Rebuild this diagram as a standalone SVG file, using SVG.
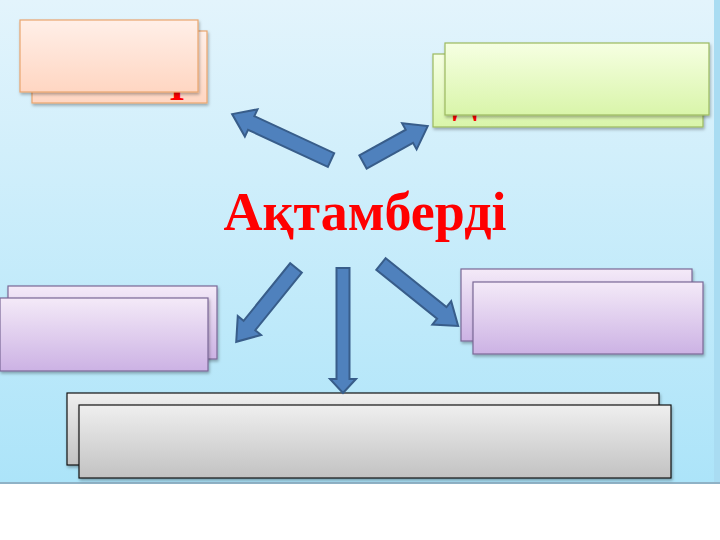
<svg xmlns="http://www.w3.org/2000/svg" width="720" height="540" viewBox="0 0 720 540">
<defs>
<linearGradient id="bg" x1="0" y1="0" x2="0" y2="1"><stop offset="0" stop-color="#e3f4fc"/><stop offset="1" stop-color="#ace4f9"/></linearGradient>
<linearGradient id="gPeach" x1="0" y1="0" x2="0" y2="1"><stop offset="0" stop-color="#ffefe8"/><stop offset="1" stop-color="#ffd6c2"/></linearGradient>
<linearGradient id="gGreen" x1="0" y1="0" x2="0" y2="1"><stop offset="0" stop-color="#f6ffe2"/><stop offset="1" stop-color="#d9f5aa"/></linearGradient>
<linearGradient id="gPurple" x1="0" y1="0" x2="0" y2="1"><stop offset="0" stop-color="#f4eaf8"/><stop offset="1" stop-color="#ccb2e4"/></linearGradient>
<linearGradient id="gGray" x1="0" y1="0" x2="0" y2="1"><stop offset="0" stop-color="#efefef"/><stop offset="1" stop-color="#c2c2c2"/></linearGradient>
<filter id="sh" x="-5%" y="-10%" width="115%" height="130%"><feDropShadow dx="1" dy="2" stdDeviation="1.5" flood-color="#000" flood-opacity="0.3"/></filter>
</defs>
<style>
.peach{fill:url(#gPeach);stroke:#eaa56e;stroke-width:1.2;filter:url(#sh)}
.green{fill:url(#gGreen);stroke:#9cba5f;stroke-width:1.2;filter:url(#sh)}
.purple{fill:url(#gPurple);stroke:#7a6896;stroke-width:1.2;filter:url(#sh)}
.gray{fill:url(#gGray);stroke:#111;stroke-width:1.2;filter:url(#sh)}
.arrow{fill:#4f81bd;stroke:#385d8a;stroke-width:2;stroke-linejoin:miter}
.frag{fill:#ff0000;font-family:"Liberation Serif",serif;font-weight:bold}
.title{fill:#ff0000;font-family:"Liberation Serif",serif;font-weight:bold;font-size:54px}
</style>
<rect x="0" y="0" width="720" height="540" fill="#ffffff"/>
<rect x="0" y="0" width="720" height="483" fill="url(#bg)"/>
<rect x="714" y="0" width="6" height="483" fill="#a9dcf2"/>
<line x1="0" y1="483" x2="720" y2="483" stroke="#8fb2c6" stroke-width="2"/>

<g id="node-top-left">
<rect class="peach" x="32" y="31" width="175" height="72"/>
<text class="frag" x="177" y="100" font-size="40" text-anchor="middle">І</text>
<rect class="peach" x="20" y="20" width="178" height="72"/>
</g>
<g id="node-top-right">
<rect class="green" x="433" y="54" width="270" height="73"/>
<text class="frag" x="465" y="113" font-size="36" text-anchor="middle">Д</text>
<rect class="green" x="445" y="43" width="264" height="72"/>
</g>
<g id="node-mid-left">
<rect class="purple" x="8" y="286" width="209" height="73"/>
<rect class="purple" x="0" y="298" width="208" height="73"/>
</g>
<g id="node-mid-right">
<rect class="purple" x="461" y="269" width="231" height="72"/>
<rect class="purple" x="473" y="282" width="230" height="72"/>
</g>
<g id="node-bottom">
<rect class="gray" x="67" y="393" width="592" height="72"/>
<rect class="gray" x="79" y="405" width="592" height="73"/>
</g>
<g id="node-center">
<text class="title" x="365" y="230" text-anchor="middle">Ақтамберді</text>
</g>
<g id="connectors">
<polygon class="arrow" transform="translate(331,160) rotate(204.9)" points="0,-7.5 88,-7.5 88,-15 109,0 88,15 88,7.5 0,7.5"/>
<polygon class="arrow" transform="translate(363,162) rotate(-29)" points="0,-7.5 53,-7.5 53,-15 74,0 53,15 53,7.5 0,7.5"/>
<polygon class="arrow" transform="translate(296,268) rotate(129)" points="0,-7.5 74,-7.5 74,-15 95,0 74,15 74,7.5 0,7.5"/>
<polygon class="arrow" transform="translate(343,268) rotate(90)" points="0,-6.5 111,-6.5 111,-13 125,0 111,13 111,6.5 0,6.5"/>
<polygon class="arrow" transform="translate(381,264) rotate(38.8)" points="0,-7.5 78,-7.5 78,-15 99,0 78,15 78,7.5 0,7.5"/>
</g>
</svg>
